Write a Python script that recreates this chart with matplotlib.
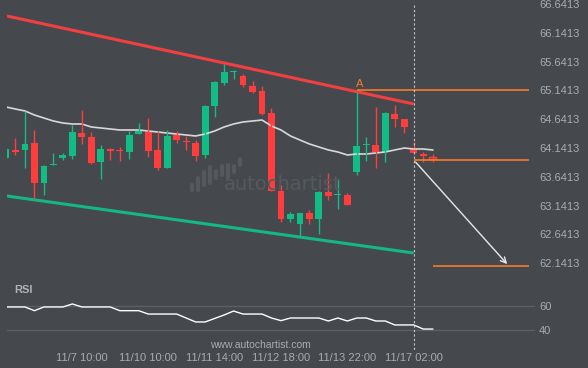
import numpy as np
import matplotlib
matplotlib.use("Agg")
import matplotlib.pyplot as plt
from matplotlib import transforms

# Свечи (4ч): open, high, low, close
opens = [63.968, 64.107, 64.107, 64.228, 63.534, 63.850, 63.968, 64.003, 64.401, 64.332,
         63.898, 64.124, 64.095, 64.072, 64.384, 64.419, 64.107, 63.794, 64.367, 64.250,
         64.228, 64.020, 64.870, 65.270, 65.455, 65.391, 65.218, 65.131, 64.749, 63.395,
         62.909, 62.822, 63.013, 62.909, 63.378, 63.320, 63.325, 63.725, 64.190, 64.193,
         64.072, 64.731, 64.645, 64.124, 64.037, 63.985]
highs = [64.159, 64.315, 64.784, 64.454, 63.846, 64.055, 64.055, 64.541, 64.801, 64.419,
         64.193, 64.141, 64.159, 64.436, 64.575, 64.662, 64.436, 64.454, 64.436, 64.350,
         64.280, 64.888, 65.304, 65.600, 65.496, 65.426, 65.304, 65.218, 64.836, 63.499,
         63.030, 63.013, 63.065, 63.395, 63.707, 63.586, 63.360, 65.114, 64.332, 64.853,
         64.766, 64.888, 64.645, 64.245, 64.072, 64.037]
lows = [63.950, 64.020, 63.794, 63.256, 63.325, 63.846, 63.933, 63.950, 64.211, 63.864,
        63.603, 63.933, 63.916, 63.950, 64.384, 63.985, 63.759, 63.794, 64.228, 64.107,
        63.916, 63.968, 64.679, 65.235, 65.339, 65.200, 65.096, 64.714, 63.395, 62.857,
        62.857, 62.596, 62.822, 62.648, 63.239, 63.082, 63.152, 63.673, 63.916, 63.794,
        63.898, 64.506, 64.401, 64.055, 63.898, 63.898]
closes = [64.124, 64.072, 64.211, 63.534, 63.829, 63.870, 64.020, 64.419, 64.332, 63.881,
          64.124, 64.089, 64.085, 64.367, 64.436, 64.089, 63.794, 64.350, 64.280, 64.240,
          64.003, 64.870, 65.287, 65.461, 65.465, 65.235, 65.114, 64.731, 63.395, 62.909,
          62.995, 63.013, 62.909, 63.378, 63.308, 63.330, 63.152, 64.176, 64.200, 64.072,
          64.749, 64.645, 64.506, 64.055, 64.003, 63.950]

# Скользящая средняя
ma = [64.853, 64.818, 64.784, 64.714, 64.662, 64.610, 64.575, 64.558, 64.558, 64.506,
      64.489, 64.471, 64.454, 64.454, 64.454, 64.436, 64.419, 64.401, 64.384, 64.367,
      64.350, 64.384, 64.436, 64.506, 64.558, 64.593, 64.610, 64.627, 64.523, 64.454,
      64.350, 64.280, 64.211, 64.159, 64.107, 64.072, 64.020, 64.037, 64.037, 64.055,
      64.072, 64.107, 64.141, 64.124, 64.124, 64.107]

# RSI
rsi = [59.2, 59.2, 59.2, 56.1, 59.2, 59.2, 59.2, 61.7, 59.2, 59.2,
       59.2, 59.2, 56.1, 56.1, 56.1, 53.3, 53.3, 53.3, 53.3, 50.0,
       46.7, 46.7, 49.6, 52.5, 55.8, 53.3, 53.3, 53.3, 50.0, 47.8,
       50.0, 50.0, 50.0, 50.0, 47.5, 50.0, 47.5, 50.0, 50.0, 47.5,
       47.5, 44.2, 44.2, 44.2, 40.8, 40.8]

# Канал и уровни
res_x = [0.1, 43]
res_y = [66.433, 64.905]
sup_x = [0.1, 43]
sup_y = [63.308, 62.318]
level_a = 65.1413
level_a_start = 37
level_now = 63.933
target = 62.09
now_idx = 43
line_end = 55.2
target_start = 45
arrow_end = 53.05

yticks = [66.6413, 66.1413, 65.6413, 65.1413, 64.6413, 64.1413, 63.6413, 63.1413, 62.6413, 62.1413]
xtick_pos = [8, 15, 22, 29, 36, 43]
xtick_labels = ["11/7 10:00", "11/10 10:00", "11/11 14:00", "11/12 18:00", "11/13 22:00", "11/17 02:00"]

bg = "#45494e"
green = "#12bd85"
red = "#ff3d3d"
orange = "#f97a2b"
txt = "#a8acb0"

W, H = 588, 368
fig = plt.figure(figsize=(W / 100, H / 100), dpi=100, facecolor=bg)
ax = fig.add_axes([7 / W, 1 - 280 / H, 528 / W, 280 / H], facecolor=bg)
ax2 = fig.add_axes([7 / W, 1 - 345 / H, 528 / W, 62 / H], facecolor=bg)

xlim = (0.105, 55.79)
for a in (ax, ax2):
    a.set_xlim(*xlim)
    for s in a.spines.values():
        s.set_visible(False)
    a.yaxis.tick_right()
    a.tick_params(length=0, colors=txt, labelsize=8, pad=3)

# Водяной знак
logo_x = [192, 198, 204, 210, 216, 222, 228, 234, 240]
logo_top = [185, 178, 172, 167, 171, 166, 165, 166, 159]
logo_bot = [190, 190, 185, 183, 178, 175, 178, 172, 165]
for lx, lt, lb in zip(logo_x, logo_top, logo_bot):
    fig.add_artist(plt.Line2D([lx / W, lx / W], [1 - lt / H, 1 - lb / H], color="#55595e",
                              lw=3, solid_capstyle="round"))
fig.text(224 / W, 1 - 185 / H, "autochartist", color="#55595e", fontsize=14,
         va="center", ha="left", family="DejaVu Sans")

# Канал
ax.plot(res_x, res_y, color="#f23f3f", lw=2.2, solid_capstyle="butt")
ax.plot(sup_x, sup_y, color="#14b884", lw=2.2, solid_capstyle="butt")

# MA
ax.plot(range(len(ma)), ma, color="#d8d8d8", lw=1.2)

# Свечи
x = np.arange(len(opens))
for i in x:
    o, h, l, c = opens[i], highs[i], lows[i], closes[i]
    col = green if c >= o else red
    ax.vlines(i, l, h, color=col, lw=1)
    bottom = min(o, c)
    height = max(abs(c - o), 0.02)
    if i == len(opens) - 1:
        ax.bar(i, height, 0.72, bottom=bottom, facecolor=bg, edgecolor=col, lw=1)
    else:
        ax.bar(i, height, 0.72, bottom=bottom, color=col, lw=0)

# Уровни и прогноз
ax.hlines(level_a, level_a_start, line_end, color=orange, lw=1.2)
ax.hlines(level_now, now_idx, line_end, color=orange, lw=1.2)
ax.hlines(target, target_start, line_end, color=orange, lw=1.2)
ax.text(level_a_start + 0.3, level_a + 0.02, "A", color=orange, fontsize=8,
        ha="center", va="bottom", family="Liberation Sans")
ax.annotate("", xy=(arrow_end, target), xytext=(now_idx, level_now),
            arrowprops=dict(arrowstyle="->", color="#e8e8e8", lw=1, mutation_scale=10))

ax.set_ylim(61.8496, 66.7107)
ax.set_yticks(yticks)
ax.set_yticklabels([f"{v:.4f}" for v in yticks], family="Liberation Sans")
ax.set_xticks([])

# Вертикальная линия "сейчас"
tr = transforms.blended_transform_factory(ax.transData, fig.transFigure)
fig.add_artist(plt.Line2D([now_idx, now_idx], [1 - 5 / H, 1 - 350 / H], transform=tr,
                          color="#c8c8c8", lw=0.8, ls=(0, (2, 2))))

# RSI
ax2.set_ylim(27.5, 79.17)
ax2.axhline(60, color="#5c6065", lw=1)
ax2.axhline(40, color="#5c6065", lw=1)
ax2.plot(range(len(rsi)), rsi, color="white", lw=1)
ax2.set_yticks([60, 40])
ax2.set_yticklabels(["60", "40"], family="Liberation Sans")
ax2.set_xticks(xtick_pos)
ax2.set_xticklabels(xtick_labels, family="Liberation Sans")
ax2.tick_params(axis="x", pad=6)
ax2.text(0.013, 0.88, "RSI", transform=ax2.transAxes, color="#b0b4b8", fontsize=8,
         fontweight="bold", family="Liberation Sans", va="center")

fig.text(260 / W, 1 - 345 / H, "www.autochartist.com", color=txt, fontsize=7.5,
         ha="center", va="center", family="Liberation Sans")

fig.savefig("out.png", dpi=100, facecolor=bg)
